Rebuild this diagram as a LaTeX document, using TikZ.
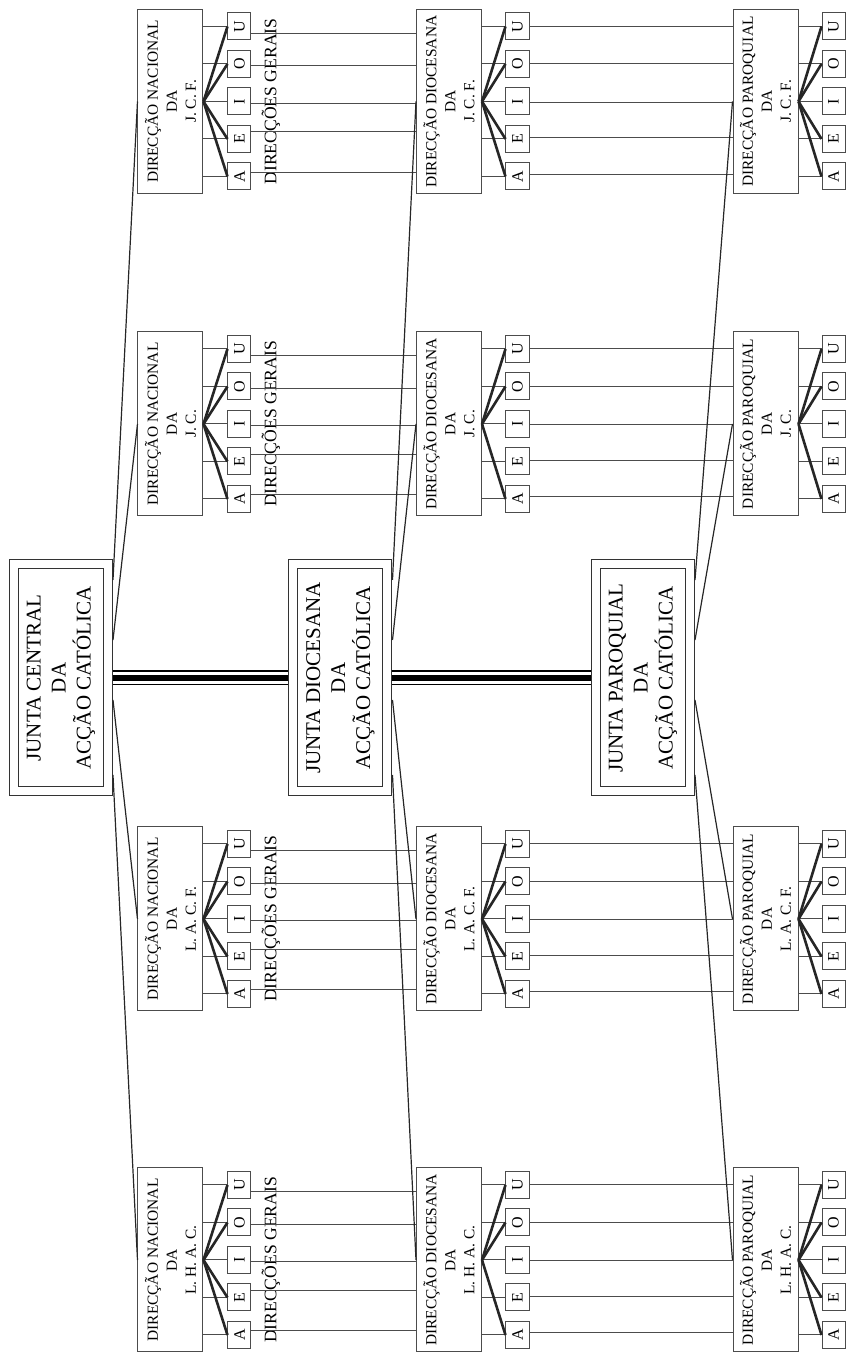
\documentclass[tikz,border=0pt]{standalone}
\usepackage{fontspec}
\setmainfont{Liberation Serif}
\usetikzlibrary{calc}

\begin{document}
\begin{tikzpicture}[x=0.5pt, y=0.5pt]

% definitions
\tikzstyle{junta} = [rectangle, minimum width=113.5pt, minimum height=47pt, align=center, draw=black!80, line width=0.5pt, double, double distance=4pt, outer sep=2.5pt, font=\fontsize{10.5}{12.5}\selectfont]

\tikzstyle{direccao} = [rectangle, minimum width=92pt, minimum height=32.5pt, inner sep=1pt, align=center, draw=black!70, line width=0.5pt, font=\fontsize{7.7}{9.5}\selectfont]

\tikzstyle{vogal} = [rectangle, minimum width=13.5pt, minimum height=11.5pt, inner sep=0pt, draw=black!70, line width=0.5pt, font=\fontsize{8}{9}\selectfont]

\tikzstyle{gerais} = [font=\fontsize{8.8}{10}\selectfont]

\tikzstyle{wire} = [draw=black!70, line width=0.5pt]
\tikzstyle{fan} = [draw=black!85, line width=1.3pt]
\tikzstyle{link} = [draw=black!85, line width=0.6pt]
\tikzstyle{junction} = [draw=black, line width=7.5pt, postaction={draw=white, line width=6pt}, postaction={draw=black, line width=3pt}]

% the graph (drawn in landscape, turned a quarter)
\begin{scope}[rotate=90, transform shape]
\useasboundingbox (0,0) rectangle (1352,846);

\node (j0) [junta] at (674,785) {JUNTA CENTRAL\\DA\\ACÇÃO CATÓLICA};
\node (j1) [junta] at (674,505.5) {JUNTA DIOCESANA\\DA\\ACÇÃO CATÓLICA};
\node (j2) [junta] at (674,203) {JUNTA PAROQUIAL\\DA\\ACÇÃO CATÓLICA};

\foreach \row/\rx/\sigla in {1/92/{L. H. A. C.}, 2/433/{L. A. C. F.}, 3/928/{J. C.}, 4/1250.5/{J. C. F.}} {
  \foreach \col/\cy/\sy/\nome in {0/675.5/606.5/NACIONAL, 1/397/328.5/DIOCESANA, 2/80.5/12.5/PAROQUIAL} {
    \node (d\col\row) [direccao] at (\rx,\cy) {DIRECÇÃO \nome\\DA\\\sigla};
    \foreach \vog/\dx in {A/-75, E/-37.5, I/0, O/37.5, U/75}
      \node (d\col\row\vog) [vogal] at (\rx+\dx,\sy) {\vog};
  }
  \node (g\row) [gerais] at (\rx,575) {DIRECÇÕES GERAIS};
}

% box to vowels
\foreach \col in {0,1,2}
  \foreach \row in {1,2,3,4}
    \foreach \vog in {A,E,I,O,U}
      \draw [wire] ($(d\col\row.south west)!(d\col\row\vog.north)!(d\col\row.south east)$) -- (d\col\row\vog.north);

\foreach \col/\row/\lista in {0/1/{A,E,O,U}, 0/2/{A,E,O,U}, 0/3/{A,E,O,U}, 0/4/{A,E,O,U},
    1/1/{A,O,U}, 1/2/{A,E,O,U}, 1/3/{A,O,U}, 1/4/{A,E,O,U},
    2/1/{A,E,O,U}, 2/2/{A,E,O,U}, 2/3/{A,O,U}, 2/4/{A,E,O,U}}
  \foreach \vog in \lista
    \draw [fan] (d\col\row.south) -- (d\col\row\vog.north);

% vowels to the next level
\foreach \row in {1,2,3,4} {
  \foreach \vog/\dx in {A/4, E/7, I/-2, O/-2, U/-7} {
    \coordinate (s) at ($(d0\row\vog.south)+(\dx,0)$);
    \draw [wire] (s) -- ($(d1\row.north west)!(s)!(d1\row.north east)$);
  }
  \foreach \vog/\dx in {A/2, E/1, I/-1, O/0, U/0} {
    \coordinate (s) at ($(d1\row\vog.south)+(\dx,0)$);
    \draw [wire] (s) -- ($(d2\row.north west)!(s)!(d2\row.north east)$);
  }
}

% juntas to direccoes
\foreach \j in {0,1,2}
  \foreach \row/\dx in {1/-97, 2/-22, 3/38, 4/98} {
    \coordinate (t) at ($(j\j.south)+(\dx,0)$);
    \draw [link] (t) -- (d\j\row.north);
  }

\draw [junction] (j0.south) -- (j1.north);
\draw [junction] (j1.south) -- (j2.north);
\end{scope}

\end{tikzpicture}
\end{document}
